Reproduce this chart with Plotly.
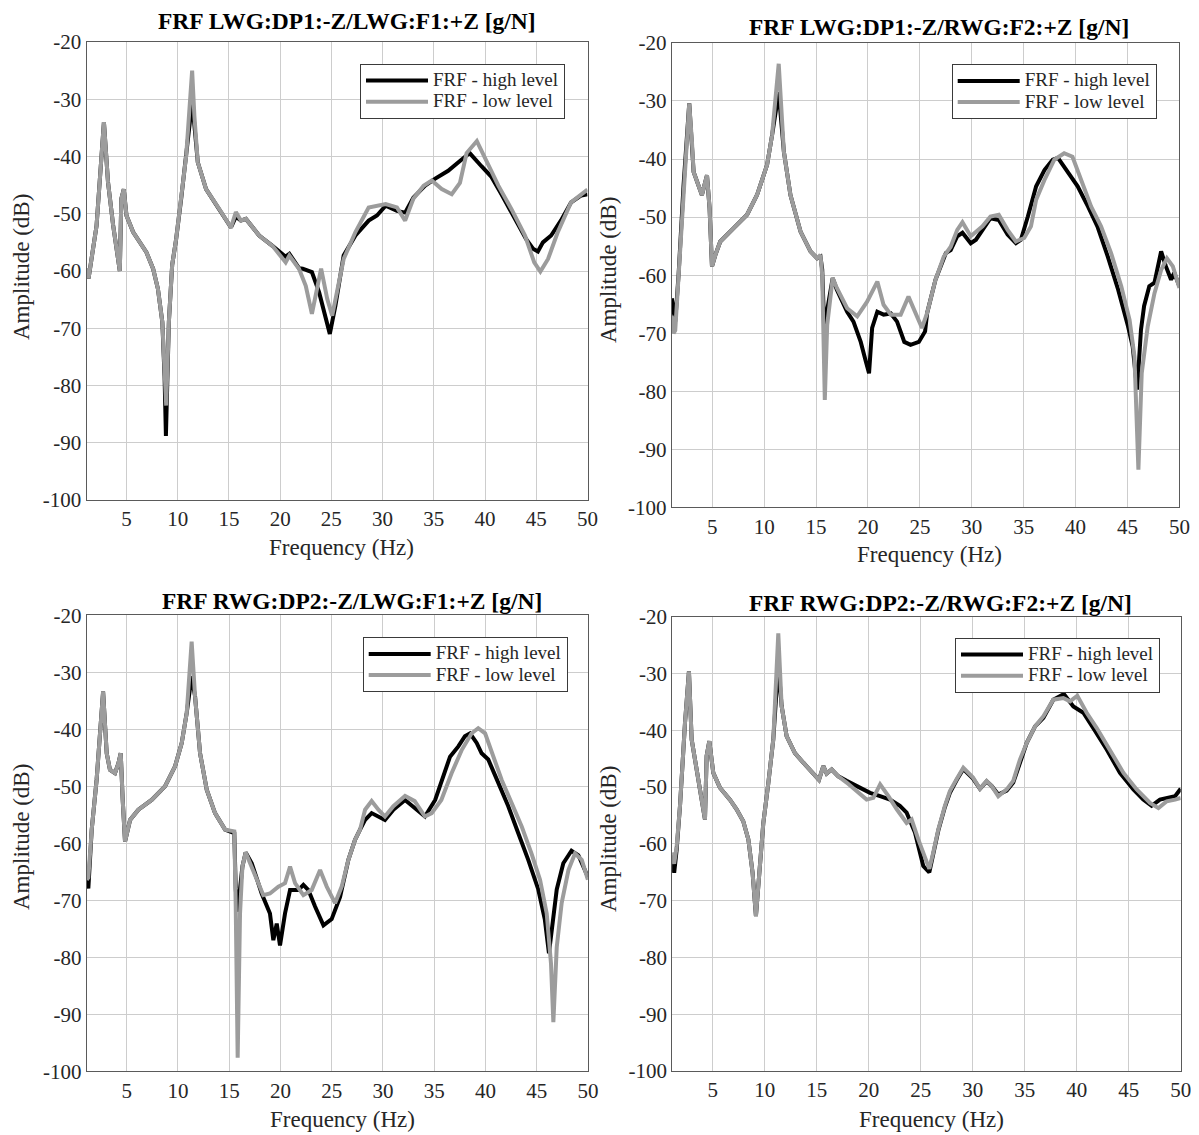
import plotly.graph_objects as go

# ---------------- data (frequency in Hz, amplitude in dB) ----------------
f1_hi = [1.1, 1.3, 2.08, 2.8, 3.2, 3.7, 4.35, 4.5, 4.74, 5.0, 5.65, 6.94, 7.6, 8.07, 8.5, 8.72, 8.85, 9.0, 9.14, 9.46,
         9.85, 10.34, 10.83, 11.41, 11.63, 11.96, 12.77, 14.06, 15.2, 15.68, 16.17, 16.66, 17.95, 19.25, 20.54, 20.9,
         21.84, 22.2, 23.1, 23.8, 24.85, 25.4, 25.9, 26.2, 27.35, 28.64, 29.45, 30.3, 31.4, 32.2, 33.0, 34.15, 35.1,
         36.4, 37.4, 38.5, 39.65, 40.6, 41.6, 42.9, 44.0, 44.68, 45.16, 45.65, 46.45, 47.4, 48.4, 49.4, 50.0]
a1_hi = [-59.5, -61.3, -52.1, -34, -44.5, -52, -60, -47.4, -45.7, -50.3, -53.2, -56.7, -59.6, -63.1, -68.9, -78.5, -88.8,
         -78, -68.9, -59, -54.4, -47.4, -39.9, -30.5, -34.5, -41, -45.7, -49.2, -52.4, -50.5, -51.2, -50.9, -53.8,
         -55.6, -57.5, -57, -59.5, -59.6, -60.2, -63.7, -71, -66, -60.2, -57.3, -53.8, -51.2, -50.3, -48.6, -49.5,
         -49.8, -47.2, -45.1, -43.9, -42.5, -41, -39.4, -41.7, -43.5, -46.6, -51, -54.4, -56.1, -56.6, -55, -53.8,
         -51.2, -48, -46.8, -46.6]
f1_lo = [1.1, 1.3, 2.08, 2.8, 3.2, 3.7, 4.35, 4.5, 4.74, 5.0, 5.65, 6.94, 7.6, 8.07, 8.5, 8.72, 8.88, 9.14, 9.46, 9.85,
         10.34, 10.83, 11.41, 11.63, 11.96, 12.77, 14.06, 15.2, 15.68, 16.17, 16.66, 17.95, 19.25, 20.54, 20.9, 21.84,
         22.5, 23.1, 24.0, 24.6, 25.08, 25.9, 26.2, 27.35, 28.64, 30.3, 31.4, 32.2, 33.0, 34.0, 34.8, 35.77, 36.75,
         37.55, 38.2, 39.2, 40.1, 41.3, 42.58, 43.9, 44.8, 45.4, 46.15, 47.1, 48.4, 50.0]
a1_lo = [-59.5, -61.3, -52.1, -34, -44.5, -52, -60, -47.4, -45.7, -50.3, -53.2, -56.7, -59.6, -63.1, -68.9, -77.7, -83.5,
         -68.9, -59, -54.4, -47.4, -39.9, -25, -32.9, -41, -45.7, -49.2, -52.4, -49.7, -51.2, -50.9, -53.8, -55.6,
         -58.5, -57.3, -59.6, -62.6, -67.5, -59.6, -64.9, -67.8, -60.2, -57.9, -53.2, -48.9, -48.3, -48.9, -51.2,
         -47.4, -45.1, -44.2, -45.7, -46.6, -44.6, -39.4, -37.3, -40.5, -45.1, -49.2, -53.8, -58.5, -60.1, -57.9,
         -53.2, -48, -45.8]

f2_hi = [1.1, 1.27, 1.43, 1.75, 2.23, 2.78, 3.04, 3.2, 4.0, 4.49, 4.74, 4.97, 5.3, 5.77, 7.06, 8.35, 9.31, 10.28, 10.76,
         11.4, 11.9, 12.53, 13.5, 14.46, 15.1, 15.42, 15.59, 15.84, 16.07, 16.6, 17.0, 17.99, 18.6, 19.3, 19.8, 20.1,
         20.4, 20.9, 21.5, 22.2, 22.8, 23.5, 24.1, 24.9, 25.5, 25.7, 26.5, 27.5, 27.97, 28.6, 29.1, 29.9, 30.4, 31.03,
         31.8, 32.6, 33.45, 34.25, 34.73, 35.4, 36.2, 37.0, 37.8, 38.3, 39.25, 40.2, 41.2, 42.1, 43.1, 44.1, 45.05,
         45.5, 45.93, 46.3, 46.6, 47.1, 47.6, 48.24, 48.7, 49.2, 49.5, 50.0]
a2_hi = [-64, -66.5, -68, -60, -44.6, -30.4, -37, -42.2, -46.2, -42.8, -48.5, -58.5, -56.5, -54.2, -51.9, -49.6, -46.2,
         -41, -35.9, -28.5, -38.8, -46.2, -52.5, -55.9, -57.1, -56.8, -59, -72, -66, -60.5, -62.5, -66.3, -68, -71.5,
         -74.9, -76.9, -69.1, -66.3, -66.8, -66.6, -68, -71.5, -72, -71.5, -69.7, -66.5, -60.8, -56.2, -55.7, -53.3,
         -52.7, -54.5, -53.9, -52.2, -50.2, -50.5, -53, -54.5, -53.9, -49.9, -44.7, -41.9, -40.1, -39.8, -42.4, -44.7,
         -48.2, -51.6, -56.8, -62.5, -68.8, -72.3, -79.7, -69.4, -65.3, -61.9, -61.3, -55.9, -58.5, -60.8, -59.6, -61.9]
f2_lo = [1.1, 1.27, 1.43, 1.75, 2.23, 2.78, 3.04, 3.2, 4.0, 4.49, 4.74, 4.97, 5.3, 5.77, 7.06, 8.35, 9.31, 10.28, 10.76,
         11.4, 11.9, 12.53, 13.5, 14.46, 15.1, 15.42, 15.59, 15.84, 16.07, 16.6, 17.0, 17.99, 18.96, 19.9, 20.9, 21.5,
         22.2, 23.15, 23.9, 24.6, 25.2, 25.7, 26.5, 27.3, 27.97, 28.6, 29.1, 29.9, 30.4, 31.03, 31.8, 32.6, 33.45,
         34.25, 35.05, 35.7, 36.2, 37.0, 37.95, 38.9, 39.7, 40.5, 41.5, 42.45, 43.42, 44.4, 45.2, 45.67, 46.05, 46.37,
         46.95, 47.6, 48.24, 48.8, 49.37, 50.0]
a2_lo = [-67, -70, -69.5, -60, -44.6, -30.4, -37, -42.2, -46.2, -42.8, -48.5, -58.5, -56.5, -54.2, -51.9, -49.6, -46.2,
         -41, -35.9, -23.6, -38.8, -46.2, -52.5, -55.9, -57.1, -56.5, -60, -81.5, -68.6, -60.5, -62.2, -65.7, -67.1,
         -64.6, -61.1, -65.1, -66.8, -66.8, -63.7, -66.8, -69.1, -66.5, -60.8, -56.8, -55.1, -52.2, -50.9, -53.3,
         -52.5, -51.6, -49.9, -49.6, -52.2, -54.2, -53.6, -51.6, -47, -43.6, -40.1, -39, -39.6, -43.6, -48.2, -51.6,
         -56.2, -61.9, -67.7, -74, -93.5, -76.9, -68.8, -63.1, -59.1, -57.1, -58.5, -62.2]

f3_hi = [1.1, 1.26, 1.59, 2.07, 2.7, 3.05, 3.37, 3.86, 4.19, 4.42, 4.61, 4.84, 5.33, 6.14, 7.44, 8.74, 9.72, 10.37,
         10.86, 11.34, 11.67, 12.16, 12.81, 13.62, 14.6, 15.24, 15.5, 15.64, 15.8, 16.06, 16.29, 16.61, 17.2, 18.17,
         18.98, 19.31, 19.64, 19.96, 20.45, 20.94, 21.75, 22.24, 22.73, 23.38, 24.2, 25.0, 25.82, 26.63, 27.28, 27.77,
         28.26, 28.9, 29.56, 30.2, 31.02, 32.16, 32.9, 34.1, 35.1, 35.74, 36.55, 37.36, 38.0, 38.5, 39.15, 39.63,
         40.28, 41.26, 42.23, 43.2, 44.18, 45.16, 45.8, 46.2, 46.63, 46.96, 47.6, 48.4, 49.07, 49.72, 50.0]
a3_hi = [-66.8, -67.9, -57.6, -48.8, -33.4, -44.2, -47.1, -47.7, -46, -44.2, -52.3, -59.7, -55.9, -54.1, -52.4, -50,
         -46.5, -42.4, -37.1, -30.7, -34.2, -44.2, -50.6, -54.7, -57.6, -57.9, -58.2, -68, -72, -68, -64.1, -61.6,
         -63.5, -68.8, -72.3, -77, -74.1, -77.9, -72.3, -68.2, -68.2, -67.3, -68.2, -71.1, -74.4, -73.3, -69.4, -62.9,
         -59.4, -57.6, -55.9, -54.7, -55.3, -55.9, -54.1, -52.4, -53.5, -55.3, -52.4, -48.9, -44.8, -43, -41.2,
         -40.7, -42.4, -44.2, -45.3, -49.4, -53.5, -58.2, -62.9, -68.1, -73.4, -79.3, -72.3, -68.1, -63.5, -61.3,
         -62.1, -64.7, -65.9]
f3_lo = [1.1, 1.26, 1.59, 2.07, 2.7, 3.05, 3.37, 3.86, 4.19, 4.42, 4.61, 4.84, 5.33, 6.14, 7.44, 8.74, 9.72, 10.37,
         10.86, 11.34, 11.67, 12.16, 12.81, 13.62, 14.6, 15.24, 15.5, 15.64, 15.83, 16.06, 16.29, 16.61, 17.2, 17.85,
         18.33, 18.98, 19.8, 20.45, 20.94, 21.43, 22.24, 23.05, 23.87, 24.52, 25.33, 25.98, 26.63, 27.28, 27.77,
         28.26, 28.9, 29.56, 30.2, 31.02, 32.16, 33.1, 34.1, 34.76, 35.7, 36.7, 37.7, 38.66, 39.3, 39.97, 40.78,
         41.59, 42.57, 43.55, 44.5, 45.33, 45.98, 46.4, 46.63, 46.96, 47.44, 48.1, 48.74, 49.4, 50.0]
a3_lo = [-66.4, -66, -57.6, -48.8, -33.4, -44.2, -47.1, -47.7, -46, -44.2, -52.3, -59.7, -55.9, -54.1, -52.4, -50, -46.5,
         -42.4, -37.1, -24.6, -34.2, -44.2, -50.6, -54.7, -57.6, -57.9, -57.9, -71.1, -97.6, -72.3, -64.1, -61.6,
         -64.1, -67, -69.1, -68.8, -67.6, -67, -64.1, -67, -69.1, -68.2, -64.7, -67.6, -70.5, -67.6, -62.9, -59.4,
         -57.6, -54.1, -52.6, -54.1, -55.3, -53.5, -51.7, -52.6, -55.3, -54.7, -52.4, -47.7, -43.6, -40.7, -39.8,
         -40.7, -44.8, -48.9, -53, -57.1, -61.8, -66.4, -72.3, -81.1, -91.4, -78.2, -70.5, -64.7, -61.8, -62.9, -66.4]

f4_hi = [1.1, 1.3, 1.54, 1.86, 2.34, 2.72, 2.98, 3.46, 3.94, 4.26, 4.42, 4.68, 5.06, 5.7, 6.66, 7.3, 7.94, 8.43, 8.84,
         9.16, 9.48, 9.87, 10.35, 10.83, 11.31, 11.63, 12.11, 12.91, 13.72, 14.68, 15.22, 15.64, 15.96, 16.44, 17.08,
         17.88, 18.85, 20.13, 21.1, 22.05, 23.0, 23.65, 24.45, 25.25, 25.83, 26.21, 26.7, 27.33, 27.81, 28.45, 29.1,
         30.03, 30.7, 31.34, 31.82, 32.46, 33.27, 33.9, 34.55, 35.2, 36.0, 36.8, 37.75, 38.4, 38.77, 39.68, 40.64,
         41.6, 42.9, 44.16, 45.45, 46.4, 47.2, 48.0, 48.8, 49.46, 50.0]
a4_hi = [-62, -65.1, -61, -53.3, -38.7, -29.6, -41.6, -47.5, -52.2, -55.7, -44.5, -41.9, -47.5, -50.1, -52.2, -53.9, -56,
         -59.2, -65.1, -72.7, -65.1, -56.3, -49.3, -41.6, -28.3, -35.7, -41, -44, -45.7, -47.5, -48.7, -46.3, -47.6,
         -46.9, -48.1, -48.9, -49.8, -51, -51.6, -52.2, -53.3, -54.5, -58, -63.9, -65, -61.8, -57.6, -53.5, -51,
         -48.8, -46.8, -48.5, -50.3, -49, -49.8, -51.3, -50.6, -49.2, -45.6, -42.2, -39.3, -37.8, -34.6, -34, -33.6,
         -35.8, -36.9, -39.6, -43.4, -47.5, -50.4, -52.2, -53.3, -52.2, -51.9, -51.6, -50.3]
f4_lo = [1.1, 1.3, 1.54, 1.86, 2.34, 2.72, 2.98, 3.46, 3.94, 4.26, 4.42, 4.68, 5.06, 5.7, 6.66, 7.3, 7.94, 8.43, 8.84,
         9.16, 9.48, 9.87, 10.35, 10.83, 11.31, 11.63, 12.11, 12.91, 13.72, 14.68, 15.22, 15.64, 15.96, 16.44, 17.08,
         17.88, 18.85, 19.8, 20.45, 21.1, 21.9, 22.7, 23.65, 24.13, 24.77, 25.41, 25.83, 26.21, 26.7, 27.33, 27.81,
         28.45, 29.1, 30.03, 30.7, 31.34, 31.82, 32.46, 33.27, 33.9, 34.55, 35.2, 36.0, 36.8, 37.75, 38.71, 39.36,
         40.06, 40.96, 41.93, 43.2, 44.5, 45.77, 47.05, 47.86, 48.66, 49.46, 50.0]
a4_lo = [-61.5, -63.5, -60.4, -53.3, -38.7, -29.6, -41.6, -47.5, -52.2, -55.7, -44.5, -41.9, -47.5, -50.1, -52.2, -53.9,
         -56, -59.2, -65.1, -72.7, -65.1, -56.3, -49.3, -41.6, -22.9, -35.7, -41, -44, -45.7, -47.5, -48.7, -46.3,
         -47.6, -46.9, -48.1, -49.2, -50.7, -52.2, -51.9, -49.5, -51.6, -53.9, -56.3, -55.7, -59.2, -62.6, -64.4,
         -61.5, -57.4, -53.3, -50.7, -48.6, -46.6, -48.3, -50.3, -48.9, -49.8, -51.6, -50.4, -48.9, -45.1, -42.2,
         -39.3, -37.5, -34.6, -34.3, -34.9, -33.9, -36.9, -39.6, -43.4, -47.5, -50.4, -52.8, -53.7, -52.5, -52.2, -51.9]

titles = ["FRF LWG:DP1:-Z/LWG:F1:+Z [g/N]", "FRF LWG:DP1:-Z/RWG:F2:+Z [g/N]",
          "FRF RWG:DP2:-Z/LWG:F1:+Z [g/N]", "FRF RWG:DP2:-Z/RWG:F2:+Z [g/N]"]
series_names = ["FRF - high level", "FRF - low level"]
x_ticks = [5, 10, 15, 20, 25, 30, 35, 40, 45, 50]
y_ticks = [-100, -90, -80, -70, -60, -50, -40, -30, -20]
x_label = "Frequency (Hz)"
y_label = "Amplitude (dB)"

# ---------------- layout geometry (page pixels) ----------------
PAGE_W, PAGE_H = 1199, 1135
OFF = 8                      # default page margin around the figure div
W, H = PAGE_W - OFF, PAGE_H - OFF
FONT = "Liberation Serif"

def fx(p):
    return (p - OFF) / W

def fy(p):
    return 1 - (p - OFF) / H

boxes = [(86.5, 587.5, 42, 500), (671.8, 1179.4, 42.9, 507.4),
         (86.7, 587.9, 615.3, 1071.3), (672.1, 1180.7, 616.8, 1071)]
title_pos = [(346.7, 21), (939, 27), (351.5, 601), (940, 603)]
xlabel_pos = [(341, 547), (929.5, 554.5), (342, 1119.5), (931, 1119.5)]
ylabel_pos = [(21, 267), (608, 270), (21, 837), (608, 839)]
legend_pos = [(565, 64), (1156.7, 64.3), (567.7, 637.3), (1160, 638)]

data = [(f1_hi, a1_hi, f1_lo, a1_lo), (f2_hi, a2_hi, f2_lo, a2_lo),
        (f3_hi, a3_hi, f3_lo, a3_lo), (f4_hi, a4_hi, f4_lo, a4_lo)]

for fh, ah, fl, al in data:
    assert len(fh) == len(ah) and len(fl) == len(al)


def legend_name(s):
    # text drawn at 19px while the legend rows keep the compact spacing of the reference
    return '<span style="font-size:19px">' + s + '</span>'


fig = go.Figure()
layout = dict(width=W, height=H, autosize=False,
              margin=dict(l=0, r=0, t=0, b=0, pad=0, autoexpand=False),
              paper_bgcolor="white", plot_bgcolor="white",
              font=dict(family=FONT, color="#262626"), annotations=[])

for i, (fh, ah, fl, al) in enumerate(data):
    n = "" if i == 0 else str(i + 1)
    leg = "legend" + n
    fig.add_trace(go.Scatter(x=fh, y=ah, mode="lines", name=legend_name(series_names[0]),
                             line=dict(color="#000000", width=4),
                             xaxis="x" + n, yaxis="y" + n, legend=leg))
    fig.add_trace(go.Scatter(x=fl, y=al, mode="lines", name=legend_name(series_names[1]),
                             line=dict(color="#9c9c9c", width=4),
                             xaxis="x" + n, yaxis="y" + n, legend=leg))
    x0, x1, y0, y1 = boxes[i]
    common = dict(showline=True, linecolor="#5a5a5a", linewidth=1, mirror=True,
                  showgrid=True, gridcolor="#cdcdcd", gridwidth=1, zeroline=False,
                  ticks="", automargin=False,
                  tickfont=dict(family=FONT, size=21, color="#262626"))
    layout["xaxis" + n] = dict(common, domain=[fx(x0), fx(x1)], range=[1.1, 50],
                               tickmode="array", tickvals=x_ticks,
                               ticktext=[str(v) for v in x_ticks], anchor="y" + n)
    layout["yaxis" + n] = dict(common, domain=[fy(y1), fy(y0)], range=[-100, -20],
                               tickmode="array", tickvals=y_ticks,
                               ticktext=[str(v) for v in y_ticks], anchor="x" + n)
    lx, ly = legend_pos[i]
    layout[leg] = dict(x=fx(lx), y=fy(ly), xanchor="right", yanchor="top",
                       bgcolor="white", bordercolor="#3a3a3a", borderwidth=1,
                       font=dict(family=FONT, size=14, color="#262626"),
                       tracegroupgap=0, itemwidth=62)
    tx, ty = title_pos[i]
    layout["annotations"].append(dict(text="<b>" + titles[i] + "</b>", x=fx(tx), y=fy(ty),
                                      xref="paper", yref="paper", showarrow=False,
                                      xanchor="center", yanchor="middle",
                                      font=dict(family=FONT, size=23.5, color="#000000")))
    ax_, ay_ = xlabel_pos[i]
    layout["annotations"].append(dict(text=x_label, x=fx(ax_), y=fy(ay_),
                                      xref="paper", yref="paper", showarrow=False,
                                      xanchor="center", yanchor="middle",
                                      font=dict(family=FONT, size=23, color="#262626")))
    bx, by = ylabel_pos[i]
    layout["annotations"].append(dict(text=y_label, x=fx(bx), y=fy(by), textangle=-90,
                                      xref="paper", yref="paper", showarrow=False,
                                      xanchor="center", yanchor="middle",
                                      font=dict(family=FONT, size=23, color="#262626")))

fig.update_layout(**layout)
fig.write_html("out.html")
